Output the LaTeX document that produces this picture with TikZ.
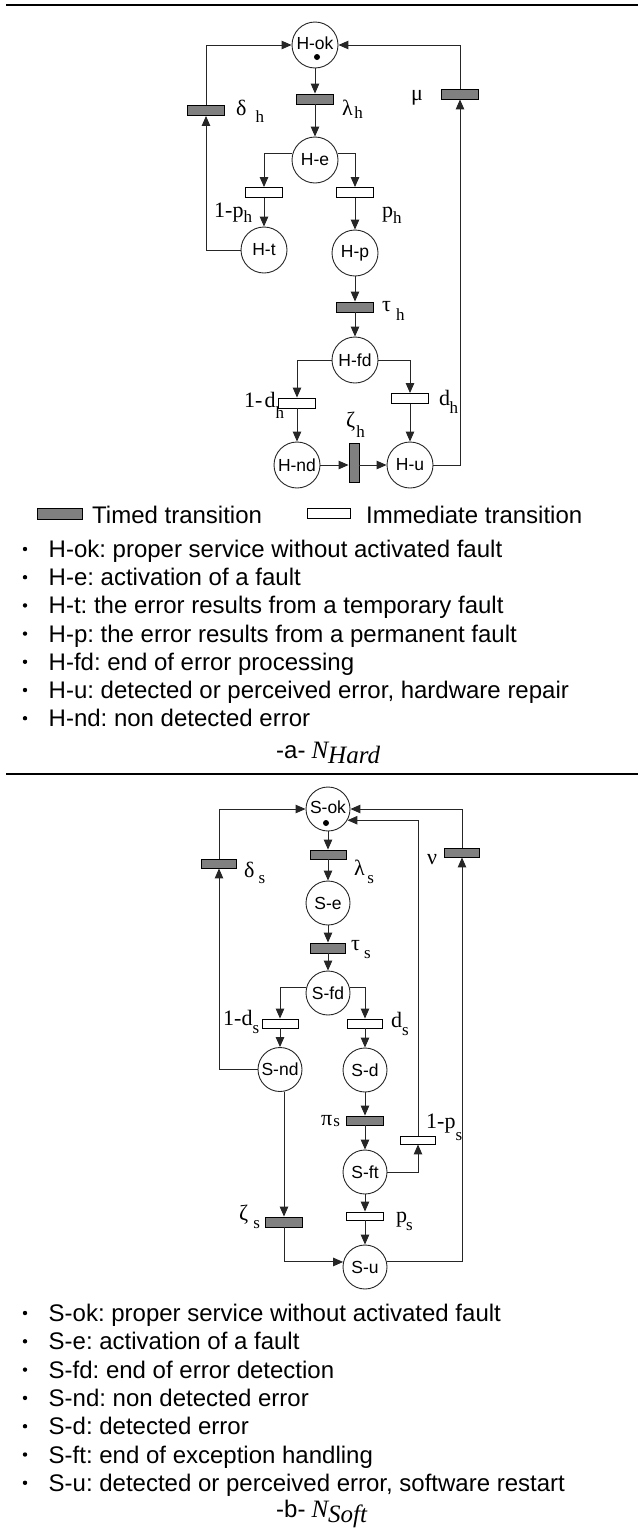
\documentclass[tikz,border=0pt]{standalone}
\usepackage{fontspec}
\setmainfont{Liberation Sans}
\newfontfamily\tnr{Liberation Serif}
\usetikzlibrary{arrows.meta}
\frenchspacing
\newcommand{\lb}[4]{#1\hspace{#3}\raisebox{-#4}{\fontsize{17}{17}\selectfont #2}}
\tikzset{
  place/.style={circle, draw=black!85, line width=0.9pt, minimum size=46pt, inner sep=0pt, font=\fontsize{17.5}{18}\selectfont},
  splace/.style={place, minimum size=44pt},
  timedtr/.style={rectangle, draw=black, line width=0.9pt, fill=black!50, minimum width=37pt, minimum height=10pt, inner sep=0pt},
  immtr/.style={timedtr, fill=white},
  arc/.style={draw=black!85, line width=1pt, -{Triangle[length=10pt,width=8.5pt]}},
  lbl/.style={anchor=base west, inner sep=0pt, font=\tnr\fontsize{22}{22}\selectfont},
  item/.style={anchor=base west, inner sep=0pt, font=\fontsize{24}{26}\selectfont},
  rule/.style={line width=2.2pt},
  bul/.style={fill=black},
}
\begin{document}
\begin{tikzpicture}[x=1pt,y=-1pt]
\useasboundingbox (0,0) rectangle (638,1537);
% rules
\draw[rule] (6,5) -- (638,5);
\draw[rule] (6,774) -- (638,774);

% ---------------- N_Hard ----------------
\node[place] (hok) at (315,45) {\raisebox{4pt}{H-ok}};
\fill (317,57) circle[radius=3pt];
\node[timedtr] (lamh) at (315,99) {};
\node[place] (he) at (315,160) {H-e};
\node[immtr] (ih1) at (264,192.5) {};
\node[immtr] (ih2) at (355,192.5) {};
\node[place] (ht) at (264,250) {H-t};
\node[place] (hp) at (355,253) {H-p};
\node[timedtr] (tauh) at (355,307) {};
\node[place] (hfd) at (355,360) {H-fd};
\node[immtr] (ih3) at (297,403) {};
\node[immtr] (ih4) at (410,398.5) {};
\node[place] (hnd) at (297,465) {H-nd};
\node[timedtr, minimum width=10pt, minimum height=39pt] (zetah) at (354,463) {};
\node[place] (hu) at (410,465) {H-u};
\node[timedtr] (delh) at (206,110.5) {};
\node[timedtr] (muh) at (460,94) {};

\draw[arc] (hok) -- (lamh);
\draw[arc] (lamh) -- (he);
\draw[arc] (he.165) -| (ih1.north);
\draw[arc] (he.15) -| (ih2.north);
\draw[arc] (ih1) -- (ht);
\draw[arc] (ih2) -- (hp);
\draw[arc] (hp) -- (tauh);
\draw[arc] (tauh) -- (hfd);
\draw[arc] (hfd.west) -| (ih3.north);
\draw[arc] (hfd.east) -| (ih4.north);
\draw[arc] (ih3) -- (hnd);
\draw[arc] (ih4) -- (hu);
\draw[arc] (hnd.east) -- (hnd.east -| zetah.west);
\draw[arc] (zetah.east |- hu.west) -- (hu.west);
\draw[arc] (ht.west) -| (delh.south);
\draw[arc] (delh.north) |- (hok.west);
\draw[arc] (hu.east) -| (muh.south);
\draw[arc] (muh.north) |- (hok.east);

\node[lbl] (l-delh) at (236,115) {\lb{δ}{h}{9pt}{7pt}};
\node[lbl] (l-lamh) at (342,115) {\lb{λ}{h}{1.5pt}{3pt}};
\node[lbl] (l-mu) at (411,100) {μ};
\node[lbl] (l-ph1) at (214,217) {\lb{1-p}{h}{0pt}{5pt}};
\node[lbl] (l-ph) at (382,217) {\lb{p}{h}{0pt}{6pt}};
\node[lbl] (l-tauh) at (382,311) {\lb{τ}{h}{5pt}{9pt}};
\node[lbl] (l-dh1) at (244,407) {\lb{1-\hspace{2pt}d}{h}{0pt}{11pt}};
\node[lbl] (l-dh) at (439,405) {\lb{d}{h}{-0.5pt}{8pt}};
\node[lbl] (l-zetah) at (346,427) {\lb{ζ}{h}{1pt}{10pt}};

% legend
\node[timedtr, minimum width=45pt, minimum height=11pt] (lgt) at (59.5,513.5) {};
\node[item] (lgtt) at (92,523) {Timed transition};
\node[immtr, minimum width=43pt, minimum height=10pt] (lgi) at (328.5,513.5) {};
\node[item] (lgit) at (366,523) {Immediate transition};

% list a
\foreach \t [count=\i from 0] in {H-ok: proper service without activated fault,
  H-e: activation of a fault,
  H-t: the error results from a temporary fault,
  H-p: the error results from a permanent fault,
  H-fd: end of error processing,
  {H-u: detected or perceived error, hardware repair},
  H-nd: non detected error}{
  \fill[bul] (25,557.5+28.2*\i-8.5) circle[radius=2.2pt];
  \node[item] (ha\i) at (48.5,557.5+28.2*\i) {\t};
}
\node[item] (capa) at (276,758) {-a-\hspace{6pt}{\tnr\itshape\fontsize{25}{25}\selectfont N\raisebox{-5pt}{Hard}}};

% ---------------- N_Soft ----------------
\node[splace] (sok) at (328,809) {\raisebox{4pt}{S-ok}};
\fill (326,823) circle[radius=3pt];
\node[timedtr, minimum width=36pt, minimum height=9pt] (lams) at (328,854.5) {};
\node[splace] (se) at (328,903) {S-e};
\node[timedtr, minimum width=35pt] (taus) at (328,948) {};
\node[splace] (sfd) at (328,993) {S-fd};
\node[immtr, minimum width=36pt, minimum height=9pt] (is1) at (280,1023.5) {};
\node[immtr, minimum width=35pt, minimum height=9pt] (is2) at (365,1023.5) {};
\node[splace] (snd) at (280,1069.5) {S-nd};
\node[splace] (sd) at (365,1070) {S-d};
\node[timedtr, minimum height=9pt] (pis) at (365,1120.5) {};
\node[splace] (sft) at (365,1172) {S-ft};
\node[immtr, minimum width=35pt, minimum height=8pt] (is3) at (418,1140) {};
\node[immtr, minimum height=8pt] (ps) at (365,1216) {};
\node[splace] (su) at (365,1267) {S-u};
\node[timedtr] (zetas) at (284,1222) {};
\node[timedtr, minimum width=35pt, minimum height=9pt] (dels) at (219,863.5) {};
\node[timedtr, minimum width=35pt, minimum height=9pt] (nus) at (462,852.5) {};

\draw[arc] (sok) -- (lams);
\draw[arc] (lams) -- (se);
\draw[arc] (se) -- (taus);
\draw[arc] (taus) -- (sfd);
\draw[arc] (sfd.167) -| (is1.north);
\draw[arc] (sfd.13) -| (is2.north);
\draw[arc] (is1) -- (snd);
\draw[arc] (is2) -- (sd);
\draw[arc] (sd) -- (pis);
\draw[arc] (pis) -- (sft);
\draw[arc] (sft) -- (ps);
\draw[arc] (ps) -- (su);
\draw[arc] (snd.west) -| (dels.south);
\draw[arc] (dels.north) |- (sok.west);
\draw[arc] (snd.south -| zetas.north) -- (zetas.north);
\draw[arc] (zetas.south) |- (su.167);
\draw[arc] (sft.east) -| (is3.south);
\draw[arc] (is3.north) |- (sok.-30);
\draw[arc] (su.13) -| (nus.south);
\draw[arc] (nus.north) |- (sok.east);

\node[lbl] (l-dels) at (244,877) {\lb{δ}{s}{4pt}{6pt}};
\node[lbl] (l-lams) at (354,875) {\lb{λ}{s}{2.5pt}{8pt}};
\node[lbl] (l-nu) at (427,864) {ν};
\node[lbl] (l-taus) at (351,950) {\lb{τ}{s}{4pt}{8pt}};
\node[lbl] (l-ds1) at (223,1025) {\lb{1-d}{s}{0pt}{8pt}};
\node[lbl] (l-ds) at (391,1027) {\lb{d}{s}{0pt}{8pt}};
\node[lbl] (l-pis) at (321,1125) {\lb{π}{s}{1pt}{1pt}};
\node[lbl] (l-ps1) at (426,1128) {\lb{1-p}{s}{0pt}{12pt}};
\node[lbl] (l-zetas) at (239,1220) {\lb{ζ}{s}{5pt}{8pt}};
\node[lbl] (l-ps) at (396,1222) {\lb{p}{s}{-1pt}{8pt}};

% list b
\foreach \t [count=\i from 0] in {S-ok: proper service without activated fault,
  S-e: activation of a fault,
  S-fd: end of error detection,
  S-nd: non detected error,
  S-d: detected error,
  S-ft: end of exception handling,
  {S-u: detected or perceived error, software restart}}{
  \fill[bul] (25,1321.5+28.3*\i-8.5) circle[radius=2.2pt];
  \node[item] (sb\i) at (48.5,1321.5+28.3*\i) {\t};
}
\node[item] (capb) at (276,1517) {-b-\hspace{6pt}{\tnr\itshape\fontsize{25}{25}\selectfont N\raisebox{-5pt}{Soft}}};
\end{tikzpicture}
\end{document}
